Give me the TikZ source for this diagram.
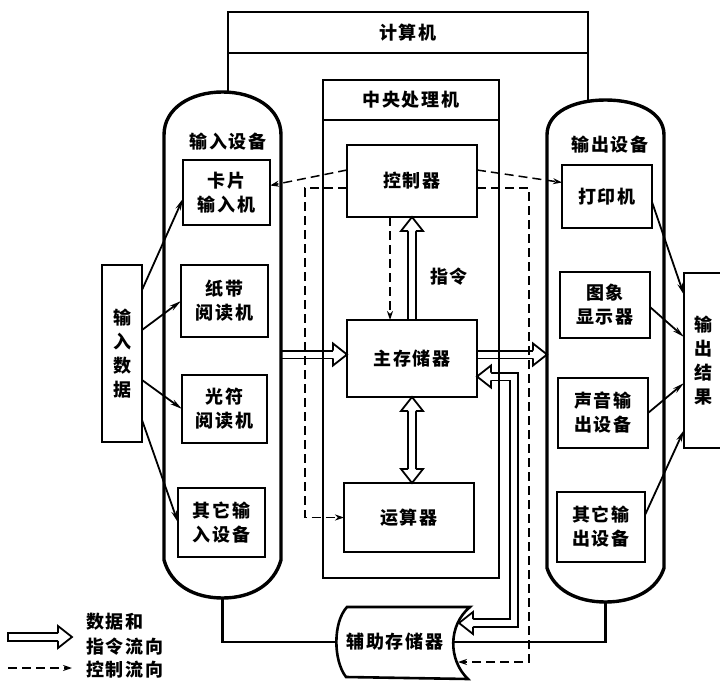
\documentclass[tikz,border=0pt]{standalone}
\usepackage{fontspec}
\setmainfont{Noto Sans CJK SC}[LetterSpace=10]
\usetikzlibrary{arrows.meta,calc}
\newcommand\dfont{\bfseries\fontsize{18}{24}\selectfont}
\pgfdeclarelayer{bg}
\pgfsetlayers{bg,main}
\tikzset{
 lbl/.style={font=\dfont, inner sep=0pt, outer sep=0pt},
 box/.style={draw, line width=2.4pt, inner sep=0pt, outer sep=0pt, align=center, font=\dfont},
 ghost/.style={inner sep=0pt, outer sep=0pt, align=center, font=\dfont},
 frame/.style={line width=2.8pt},
 capsule/.style={line width=3.4pt},
 link/.style={line width=1.8pt, -{Stealth[length=12pt,width=5.5pt]}},
 ctl/.style={line width=1.5pt, dash pattern=on 9pt off 5pt, -{Stealth[length=9pt,width=6pt]}},
 shaft/.style={double, double distance=6pt, line width=1.8pt},
 hhead/.pic={\filldraw[fill=white, line width=1.8pt, line join=miter] (-14,-3.9) -- (-14,-11) -- (0,0) -- (-14,11) -- (-14,3.9);}
}
\begin{document}
\begin{tikzpicture}[x=1pt,y=-1pt,line join=miter]
\useasboundingbox (0,0) rectangle (720,682);

% ---------- capsules (input / output devices) ----------
\node[ghost, minimum width=117pt, minimum height=506pt] (incap) at (222.5,345) {};
\node[ghost, minimum width=117pt, minimum height=502pt] (outcap) at (605.5,351) {};
\draw[capsule] (164,135) -- (164,560) .. controls (171,585) and (194,598) .. (222.5,598)
  .. controls (251,598) and (274,585) .. (281,560) -- (281,135)
  .. controls (281,108) and (254,92) .. (222.5,92) .. controls (191,92) and (164,108) .. (164,135) -- cycle;
\draw[capsule] (547,135) -- (547,568) .. controls (554,590) and (577,602) .. (605.5,602)
  .. controls (634,602) and (657,590) .. (664,568) -- (664,135)
  .. controls (664,112) and (637,100) .. (605.5,100) .. controls (574,100) and (547,112) .. (547,135) -- cycle;
\node[lbl] (inlbl) at (228,142) {输入设备};
\node[lbl] (outlbl) at (610,145) {输出设备};

% ---------- computer frame ----------
\node[box, line width=2.8pt, minimum width=360pt, minimum height=41pt] (comp) at (408,32.5) {计算机};
\draw[frame] (comp.south west) -- (comp.south west |- incap.north);
\draw[frame] (comp.south east) -- ($(comp.south east |- outcap.north)+(0,2)$);

% ---------- CPU ----------
\node[box, minimum width=176pt, minimum height=40pt] (cpuh) at (411,100) {中央处理机};
\node[box, minimum width=176pt, minimum height=458pt] (cpu) at (411,349) {};
\node[box, minimum width=130pt, minimum height=72pt] (ctrl) at (412,181) {控制器};
\node[box, minimum width=130pt, minimum height=77pt] (mem) at (412,358.5) {主存储器};
\node[box, minimum width=130pt, minimum height=69pt] (alu) at (409,517.5) {运算器};
\node[lbl] (instr) at (449,277) {指令};

% ---------- input devices ----------
\node[box, minimum width=87pt, minimum height=65pt] (card) at (226.5,192.5) {卡片\\输入机};
\node[box, minimum width=87pt, minimum height=72pt] (tape) at (224.5,301) {纸带\\阅读机};
\node[box, minimum width=85pt, minimum height=68pt] (optic) at (224.5,409) {光符\\阅读机};
\node[box, minimum width=87pt, minimum height=69pt] (otherin) at (221.5,522.5) {其它输\\入设备};

% ---------- output devices ----------
\node[box, minimum width=90pt, minimum height=63pt] (printer) at (607,196.5) {打印机};
\node[box, minimum width=90pt, minimum height=66pt] (display) at (605,305) {图象\\显示器};
\node[box, minimum width=90pt, minimum height=70pt] (sound) at (603,413) {声音输\\出设备};
\node[box, minimum width=88pt, minimum height=70pt] (otherout) at (601,527) {其它输\\出设备};

% ---------- outside boxes ----------
\node[box, minimum width=40pt, minimum height=177pt] (indata) at (122,353.5) {输\\入\\数\\据};
\node[box, minimum width=38pt, minimum height=175pt] (outres) at (703,360.5) {输\\出\\结\\果};

% ---------- auxiliary storage ----------
\node[ghost, minimum width=116pt, minimum height=70pt] (aux) at (395,642) {辅助存储器};
\draw[line width=2.6pt] (347,607) -- (470,607) .. controls (448,625) and (448,660) .. (468,679)
  -- (346,677) .. controls (333,660) and (333,622) .. (347,607) -- cycle;
\coordinate (auxh) at (459,623);
\coordinate (auxd) at (458,662);
\draw[frame] (incap.south) |- (aux.west);
\draw[frame] (aux.east) -| (outcap.south);

% ---------- hollow (data / instruction) arrows ----------
\begin{pgfonlayer}{bg}
\coordinate (aT) at ($(mem.west)+(0,-4)$);
\draw[shaft] (incap.east |- aT) -- ($(aT)+(-14,0)$);
\pic at (aT) {hhead};
\coordinate (bT) at (outcap.west |- aT);
\draw[shaft] (mem.east |- aT) -- ($(bT)+(-14,0)$);
\pic at (bT) {hhead};
\draw[shaft] (mem.north) -- ($(ctrl.south)+(0,14)$);
\pic[rotate=90] at (ctrl.south) {hhead};
\coordinate (dT) at (alu.north -| mem.south);
\draw[shaft] ($(mem.south)+(0,14)$) -- ($(dT)+(0,-14)$);
\pic[rotate=90] at (mem.south) {hhead};
\pic[rotate=-90] at (dT) {hhead};
\coordinate (cT) at ($(mem.east)+(0,18)$);
\coordinate (cX) at (514,0);
\draw[shaft] ($(cT)+(14,0)$) -- (cX |- cT) -- (cX |- auxh) -- ($(auxh)+(14,0)$);
\pic[rotate=180] at (cT) {hhead};
\pic[rotate=180] at (auxh) {hhead};
\end{pgfonlayer}

% ---------- control (dashed) arrows ----------
\coordinate (dL) at (305,0);
\coordinate (dR) at (529,0);
\draw[ctl] ($(ctrl.west)+(0,-11)$) -- ($(card.east)+(0,-7)$);
\draw[ctl] ($(ctrl.east)+(0,-11)$) -- ($(printer.west)+(0,-14)$);
\draw[ctl] ($(ctrl.west)+(0,7)$) -| (dL |- alu.west) -- (alu.west);
\draw[ctl] ($(ctrl.east)+(0,7)$) -| (dR |- auxd) -- (auxd);
\draw[ctl] ($(ctrl.south)+(-22,0)$) -- ($(mem.north)+(-22,0)$);

% ---------- input / output links ----------
\draw[link] ($(indata.east)+(0,-63.5)$) -- ($(card.west)+(0,6)$);
\draw[link] ($(indata.east)+(0,-23.5)$) -- (tape.west);
\draw[link] ($(indata.east)+(0,26.5)$) -- (optic.west);
\draw[link] ($(indata.east)+(0,66.5)$) -- (otherin.west);
\draw[link] ($(printer.east)+(0,5.5)$) -- ($(outres.west)+(0,-65.5)$);
\draw[link] ($(display.east)+(0,2)$) -- ($(outres.west)+(0,-23.5)$);
\draw[link] (sound.east) -- ($(outres.west)+(0,22.5)$);
\draw[link] ($(otherout.east)+(0,-12)$) -- ($(outres.west)+(0,69.5)$);

% ---------- legend ----------
\coordinate (lgA) at (8,637);
\coordinate (lgB) at (72,637);
\draw[shaft] (lgA) -- ($(lgB)+(-14,0)$);
\pic at (lgB) {hhead};
\draw[line width=1.8pt] ($(lgA)+(0,-4.8)$) -- ($(lgA)+(0,4.8)$);
\coordinate (lgC) at (8,668);
\coordinate (lgD) at (72,668);
\draw[ctl] (lgC) -- (lgD);
\node[lbl, anchor=west] (lg1) at (86,622) {数据和};
\node[lbl, anchor=west] (lg2) at (86,647) {指令流向};
\node[lbl, anchor=west] (lg3) at (86,670) {控制流向};
\end{tikzpicture}
\end{document}
